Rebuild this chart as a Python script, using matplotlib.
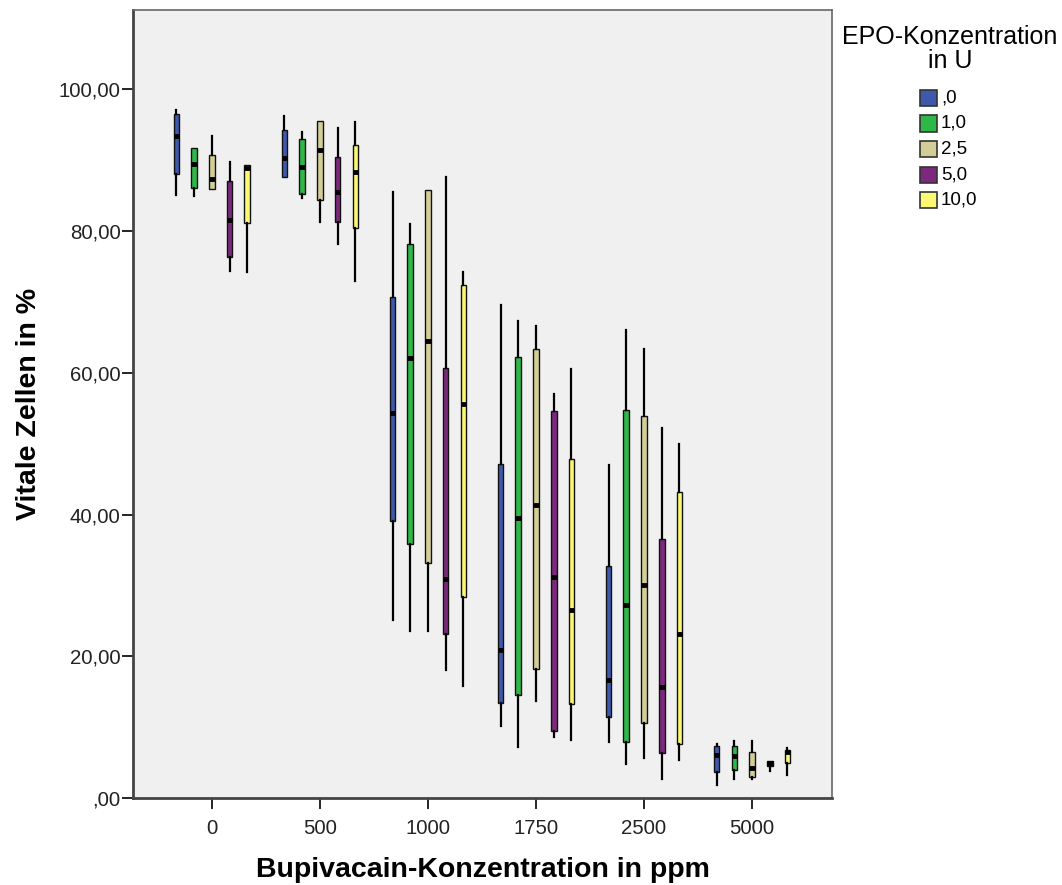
import matplotlib
matplotlib.use("Agg")
import matplotlib.pyplot as plt
from matplotlib.patches import Rectangle

plt.rcParams['font.family'] = ['Liberation Sans', 'DejaVu Sans']

categories = ['0', '500', '1000', '1750', '2500', '5000']
series = [',0', '1,0', '2,5', '5,0', '10,0']
colors = ['#3e58ac', '#2eb848', '#d3ce97', '#7c287d', '#fbf873']

# per series: per category (whislo, q1, median, q3, whishi)
epo_0 = [(85.1, 88.0, 93.4, 96.5, 97.1), (87.6, 87.6, 90.3, 94.3, 96.2),
         (25.1, 39.1, 54.4, 70.7, 85.5), (10.1, 13.4, 20.9, 47.1, 69.6),
         (7.9, 11.5, 16.6, 32.7, 47.0), (1.8, 3.6, 6.1, 7.3, 7.6)]
epo_1 = [(85.0, 86.1, 89.4, 91.7, 91.7), (84.6, 85.3, 89.1, 93.0, 94.0),
         (23.5, 35.9, 62.1, 78.2, 81.0), (7.2, 14.5, 39.5, 62.2, 67.3),
         (4.8, 7.9, 27.3, 54.7, 66.1), (2.7, 4.0, 5.9, 7.3, 8.1)]
epo_2_5 = [(85.9, 85.9, 87.3, 90.7, 93.4), (81.3, 84.4, 91.4, 95.6, 95.6),
           (23.6, 33.2, 64.5, 85.8, 85.8), (13.7, 18.2, 41.3, 63.3, 66.6),
           (5.6, 10.6, 30.1, 53.9, 63.4), (2.7, 2.9, 4.3, 6.5, 8.1)]
epo_5 = [(74.3, 76.3, 81.5, 87.1, 89.7), (78.2, 81.3, 85.5, 90.5, 94.5),
         (18.1, 23.2, 30.9, 60.7, 87.6), (8.6, 9.4, 31.2, 54.6, 57.0),
         (2.7, 6.4, 15.6, 36.5, 52.2), (3.8, 4.5, 5.0, 5.2, 5.2)]
epo_10 = [(74.2, 81.1, 88.9, 89.3, 89.3), (72.9, 80.4, 88.3, 92.1, 95.4),
          (15.8, 28.4, 55.6, 72.4, 74.2), (8.2, 13.2, 26.6, 47.8, 60.5),
          (5.4, 7.6, 23.1, 43.2, 49.9), (3.2, 4.9, 6.5, 6.8, 7.0)]
all_series = [epo_0, epo_1, epo_2_5, epo_5, epo_10]

yticks = [0, 20, 40, 60, 80, 100]

fig = plt.figure(figsize=(10.62, 8.85), dpi=100)
ax = fig.add_axes([133/1062, 1-798/885, (832-133)/1062, (798-10)/885])
ax.set_facecolor('#f0f0f0')

offset = 0.164
width = 0.052
for si, (sdata, col) in enumerate(zip(all_series, colors)):
    stats = []
    positions = []
    for ci, (lo, q1, med, q3, hi) in enumerate(sdata):
        stats.append(dict(whislo=lo, q1=q1, med=med, q3=q3, whishi=hi, fliers=[]))
        positions.append(ci + (si - 2) * offset)
    ax.bxp(stats, positions=positions, widths=width, patch_artist=True,
           showfliers=False, showcaps=False,
           boxprops=dict(facecolor=col, edgecolor='#111111', linewidth=1.0),
           whiskerprops=dict(color='black', linewidth=1.6),
           medianprops=dict(color='black', linewidth=3.5, solid_capstyle='butt'),
           manage_ticks=False, zorder=3)

ax.set_xlim(-0.73, len(categories) - 1 + 0.74)
ax.set_ylim(0, 111.2)
ax.set_xticks(range(len(categories)))
ax.set_xticklabels(categories)
ax.set_yticks(yticks)
ax.set_yticklabels([(',00' if v == 0 else f'{v:.2f}'.replace('.', ',')) for v in yticks])
ax.tick_params(axis='both', direction='out', length=8, width=1.2, colors='black',
               labelsize=14.7, labelcolor='#222222')
ax.tick_params(axis='y', pad=1)
ax.tick_params(axis='x', pad=7)
for side in ['left', 'bottom']:
    ax.spines[side].set_color('#444444')
    ax.spines[side].set_linewidth(2)
for side in ['top', 'right']:
    ax.spines[side].set_color('#666666')
    ax.spines[side].set_linewidth(1.2)

ax.set_xlabel('Bupivacain-Konzentration in ppm', fontsize=20.5, fontweight='bold', labelpad=14)
ax.set_ylabel('Vitale Zellen in %', fontsize=20.5, fontweight='bold', labelpad=12)

# legend
fig.text(950/1062, 1-37/885, 'EPO-Konzentration', ha='center', va='center', fontsize=18)
fig.text(950/1062, 1-61/885, 'in U', ha='center', va='center', fontsize=18)
for i, (lab, col) in enumerate(zip(series, colors)):
    yc = 98 + i * 25.5
    fig.patches.append(Rectangle((920/1062, 1-(yc+8)/885), 17/1062, 16/885,
                                 transform=fig.transFigure, facecolor=col,
                                 edgecolor='#333333', linewidth=1.2))
    fig.text(941/1062, 1-yc/885, lab, ha='left', va='center', fontsize=13.5)

fig.savefig('out.png', dpi=100, facecolor='white')
